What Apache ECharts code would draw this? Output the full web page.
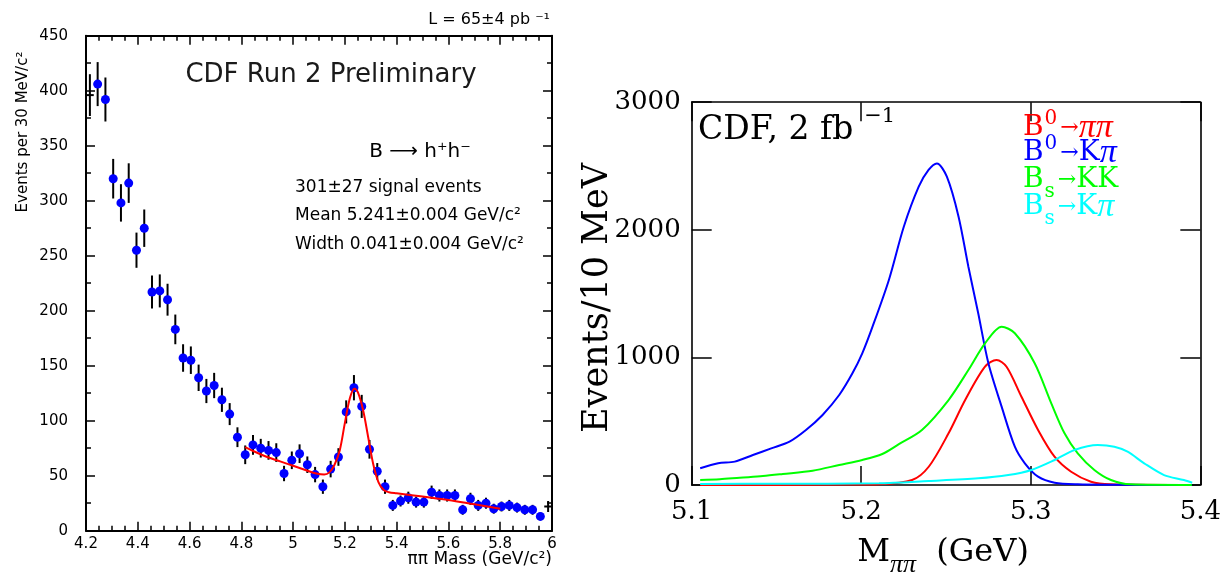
<!DOCTYPE html>
<html>
<head>
<meta charset="utf-8">
<title>B → h⁺h⁻ mass spectra</title>
<script src="https://cdn.jsdelivr.net/npm/echarts@6/dist/echarts.min.js"></script>
<style>
  html, body { margin: 0; padding: 0; background: #fff; }
  #chart { width: 1224px; height: 572px; }
</style>
</head>
<body>
<div id="chart"></div>
<script>
// ---------- Left panel: ππ invariant mass, 30 MeV bins ----------
const massBins = [4.245, 4.275, 4.305, 4.335, 4.365, 4.395, 4.425, 4.455, 4.485, 4.515,
  4.545, 4.575, 4.605, 4.635, 4.665, 4.695, 4.725, 4.755, 4.785, 4.815,
  4.845, 4.875, 4.905, 4.935, 4.965, 4.995, 5.025, 5.055, 5.085, 5.115,
  5.145, 5.175, 5.205, 5.235, 5.265, 5.295, 5.325, 5.355, 5.385, 5.415,
  5.445, 5.475, 5.505, 5.535, 5.565, 5.595, 5.625, 5.655, 5.685, 5.715,
  5.745, 5.775, 5.805, 5.835, 5.865, 5.895, 5.925, 5.955];
const eventCounts = [406, 392, 320, 298, 316, 255, 275, 217, 218, 210,
  183, 157, 155, 139, 127, 132, 119, 106, 85, 69,
  78, 75, 73, 71, 52, 64, 70, 60, 51, 40,
  56, 67, 108, 130, 113, 74, 54, 40, 23, 27,
  30, 26, 26, 35, 32, 32, 32, 19, 29, 23,
  25, 20, 22, 23, 21, 19, 19, 13];
const countErrors = [20, 20, 18, 17, 18, 16, 17, 15, 15, 14.5,
  13.5, 12.5, 12.5, 12, 11, 11.5, 11, 10, 9, 8.5,
  9, 8.5, 8.5, 8.5, 7, 8, 8.5, 7.5, 7, 6.5,
  7.5, 8, 10.5, 11.5, 10.5, 8.5, 7.5, 6.5, 5, 5,
  5.5, 5, 5, 6, 5.5, 5.5, 5.5, 4.5, 5.5, 5,
  5, 4.5, 4.5, 5, 4.5, 4.5, 4.5, 3.5];
// first and last bins, drawn as plain crosses
const edgeBins = [4.215, 5.985];
const edgeCounts = [396, 22];
const edgeErrors = [19, 5];
// signal + background fit
const fitMass = [4.815, 4.85, 4.9, 4.95, 5.0, 5.05, 5.09, 5.12, 5.14, 5.16, 5.18, 5.2,
  5.22, 5.237, 5.25, 5.27, 5.29, 5.31, 5.33, 5.35, 5.37, 5.4, 5.5, 5.6, 5.7, 5.8];
const fitCounts = [76, 72, 67, 63, 59, 55, 52, 51, 53, 60, 73, 98,
  121, 129, 126, 110, 85, 60, 44, 37, 35, 34, 31, 28, 24, 20];
const leftXTicks = { min: 4.2, max: 6, step: 0.2 };
const leftYTicks = { min: 0, max: 450, step: 50 };

// ---------- Right panel: expected shapes, 10 MeV bins ----------
const b0PipiMass = [5.105, 5.15, 5.19, 5.2105, 5.23, 5.2398, 5.2515, 5.2613, 5.273, 5.2798,
  5.2857, 5.2945, 5.3043, 5.314, 5.3238, 5.3355, 5.347, 5.39];
const b0PipiEvents = [0, 0, 3, 6, 39, 143, 405, 666, 927, 980,
  927, 692, 431, 222, 104, 26, 5, 0];
const b0KpiMass = [5.105, 5.1156, 5.1254, 5.1361, 5.1469, 5.1577, 5.1674, 5.1772, 5.187, 5.1948,
  5.2006, 5.2065, 5.2163, 5.2251, 5.2339, 5.2397, 5.2446, 5.2505, 5.2574, 5.2632,
  5.269, 5.275, 5.2828, 5.2906, 5.2965, 5.3043, 5.3141, 5.3277, 5.35, 5.395];
const b0KpiEvents = [131, 170, 183, 235, 287, 340, 431, 549, 705, 875,
  1032, 1235, 1607, 2024, 2338, 2469, 2520, 2416, 2103, 1711,
  1346, 954, 614, 300, 170, 65, 18, 5, 2, 0];
const bsKKMass = [5.105, 5.1166, 5.1283, 5.142, 5.1537, 5.1713, 5.187, 5.2006, 5.2124, 5.2222,
  5.2358, 5.2515, 5.2632, 5.273, 5.2828, 5.2906, 5.3023, 5.3121, 5.3199, 5.3277,
  5.3375, 5.3473, 5.3588, 5.395];
const bsKKEvents = [39, 45, 57, 70, 86, 112, 157, 196, 243, 320,
  431, 666, 901, 1110, 1241, 1189, 954, 640, 405, 248,
  118, 39, 5, 0];
const bsKpiMass = [5.105, 5.15, 5.2105, 5.2398, 5.269, 5.2867, 5.3004, 5.3141, 5.3258, 5.3395,
  5.3493, 5.3571, 5.3669, 5.3786, 5.3903, 5.3952];
const bsKpiEvents = [8, 10, 13, 31, 52, 78, 118, 196, 274, 313,
  300, 261, 170, 78, 39, 18];
const rightXTicks = { min: 5.1, max: 5.4, step: 0.1 };
const rightYTicks = { min: 0, max: 3000, step: 1000 };

// ---------- drawing ----------
const SANS = 'DejaVu Sans';
const SERIF = 'DejaVu Serif';
const MATH = 'Liberation Serif';
const BIN_HALF_WIDTH = 0.015;

const pointsWithErrors = massBins.map((m, i) => [m, eventCounts[i], countErrors[i], 0])
  .concat(edgeBins.map((m, i) => [m, edgeCounts[i], edgeErrors[i], BIN_HALF_WIDTH]));
const pairs = (xs, ys) => xs.map((x, i) => [x, ys[i]]);

function errorBar(params, api) {
  const x = api.value(0), y = api.value(1), e = api.value(2), hw = api.value(3);
  const hi = api.coord([x, y + e]);
  const lo = api.coord([x, y - e]);
  const style = { stroke: '#000', lineWidth: 2 };
  const children = [{ type: 'line', shape: { x1: hi[0], y1: hi[1], x2: lo[0], y2: lo[1] }, style }];
  if (hw > 0) {
    const l = api.coord([x - hw, y]);
    const r = api.coord([x + hw, y]);
    children.push({ type: 'line', shape: { x1: l[0], y1: l[1], x2: r[0], y2: r[1] }, style });
  }
  return { type: 'group', children };
}

function frameAxis(gridIndex, position, range, opts) {
  const ax = {
    gridIndex, position, type: 'value',
    min: range.min, max: range.max, interval: range.step,
    axisLine: { show: true, onZero: false, lineStyle: { color: '#000', width: opts.lineWidth } },
    axisTick: { show: true, inside: true, length: opts.tickLen, lineStyle: { color: '#000', width: 1.5 } },
    splitLine: { show: false },
    axisLabel: { show: false }
  };
  if (opts.minor) {
    ax.minorTick = { show: true, splitNumber: opts.minor, length: opts.minorLen, lineStyle: { color: '#000', width: 1.5 } };
  }
  if (opts.label) {
    ax.axisLabel = Object.assign({
      show: true, color: '#000', showMinLabel: true, showMaxLabel: true
    }, opts.label);
  }
  return ax;
}

const fmt1 = v => String(Math.round(v * 10) / 10);
const fmtFixed = v => v.toFixed(1);
const fmtPlain = v => String(Math.round(v));

const option = {
  backgroundColor: '#fff',
  animation: false,
  grid: [
    { left: 86, top: 35.7, width: 466, height: 495 },
    { left: 691.7, top: 102.2, width: 511.5, height: 382.8 }
  ],
  xAxis: [
    frameAxis(0, 'bottom', leftXTicks, { lineWidth: 2, tickLen: 9, minor: 4, minorLen: 5,
      label: { margin: 6, fontFamily: SANS, fontSize: 15, formatter: fmt1 } }),
    frameAxis(0, 'top', leftXTicks, { lineWidth: 2, tickLen: 9, minor: 4, minorLen: 5 }),
    frameAxis(1, 'bottom', rightXTicks, { lineWidth: 1.6, tickLen: 19,
      label: { margin: 14, fontFamily: SERIF, fontSize: 26, formatter: fmtFixed } }),
    frameAxis(1, 'top', rightXTicks, { lineWidth: 1.6, tickLen: 19 })
  ],
  yAxis: [
    frameAxis(0, 'left', leftYTicks, { lineWidth: 2, tickLen: 9, minor: 2, minorLen: 5,
      label: { margin: 18, fontFamily: SANS, fontSize: 15, formatter: fmtPlain } }),
    frameAxis(0, 'right', leftYTicks, { lineWidth: 2, tickLen: 9, minor: 2, minorLen: 5 }),
    frameAxis(1, 'left', rightYTicks, { lineWidth: 1.6, tickLen: 20,
      label: { margin: 11, fontFamily: SERIF, fontSize: 26, formatter: fmtPlain } }),
    frameAxis(1, 'right', rightYTicks, { lineWidth: 1.6, tickLen: 20 })
  ],
  series: [
    {
      type: 'custom', name: 'errors', xAxisIndex: 0, yAxisIndex: 0,
      renderItem: errorBar, data: pointsWithErrors,
      encode: { x: 0, y: 1 }, z: 3, clip: false
    },
    {
      type: 'scatter', name: 'data', xAxisIndex: 0, yAxisIndex: 0,
      data: pairs(massBins, eventCounts), symbol: 'circle', symbolSize: 9,
      itemStyle: { color: '#0000ff', opacity: 1 }, z: 4
    },
    {
      type: 'line', name: 'fit', xAxisIndex: 0, yAxisIndex: 0,
      data: pairs(fitMass, fitCounts), smooth: 0.35, showSymbol: false, symbol: 'none',
      lineStyle: { color: '#ff0000', width: 2 }, z: 5
    },
    {
      type: 'line', name: 'B0 → ππ', xAxisIndex: 2, yAxisIndex: 2,
      data: pairs(b0PipiMass, b0PipiEvents), smooth: 0.3, symbol: 'none',
      lineStyle: { color: '#ff0000', width: 2 }
    },
    {
      type: 'line', name: 'B0 → Kπ', xAxisIndex: 2, yAxisIndex: 2,
      data: pairs(b0KpiMass, b0KpiEvents), smooth: 0.3, symbol: 'none',
      lineStyle: { color: '#0000ff', width: 2 }
    },
    {
      type: 'line', name: 'Bs → KK', xAxisIndex: 2, yAxisIndex: 2,
      data: pairs(bsKKMass, bsKKEvents), smooth: 0.3, symbol: 'none',
      lineStyle: { color: '#00ff00', width: 2 }
    },
    {
      type: 'line', name: 'Bs → Kπ', xAxisIndex: 2, yAxisIndex: 2,
      data: pairs(bsKpiMass, bsKpiEvents), smooth: 0.3, symbol: 'none',
      lineStyle: { color: '#00ffff', width: 2 }
    }
  ],
  graphic: []
};

function label(x, y, text, font, extra) {
  return Object.assign({
    type: 'text', x, y, z: 100,
    style: Object.assign({ text, fill: '#000', fontFamily: font.family, fontSize: font.size,
      align: 'left', verticalAlign: 'middle' }, font.style || {})
  }, extra || {});
}

// rich-text legend line: B with superscript / subscript, arrow, final-state particles
// (K upright, π as a math symbol)
function decayLine(y, color, script, scriptPos, finalState) {
  const particles = finalState.map(p => (p === 'π' ? '{pi|π}' : '{k|' + p + '}')).join('');
  const text = '{b|B}{' + scriptPos + '|' + script + '}{arr|→}' + particles;
  return {
    type: 'text', x: 1023, y, z: 100,
    style: {
      text, fill: color, align: 'left', verticalAlign: 'middle',
      rich: {
        b: { fontFamily: SERIF, fontSize: 28, lineHeight: 30, fill: color },
        sup: { fontFamily: SERIF, fontSize: 20, height: 12, lineHeight: 12, verticalAlign: 'top', fill: color, padding: [0, 3, 0, 1] },
        sub: { fontFamily: SERIF, fontSize: 20, height: 6, lineHeight: 6, verticalAlign: 'bottom', fill: color, padding: [0, 3, 0, 1] },
        arr: { fontFamily: SERIF, fontSize: 22, lineHeight: 30, fill: color },
        k: { fontFamily: SERIF, fontSize: 28, lineHeight: 30, fill: color },
        pi: { fontFamily: MATH, fontStyle: 'italic', fontSize: 34, lineHeight: 30, fill: color }
      }
    }
  };
}

option.graphic = [
  // left panel text
  label(331, 75, 'CDF Run 2 Preliminary', { family: SANS, size: 26, style: { align: 'center', fill: '#1a1a1a' } }),
  label(550, 20, 'L = 65±4 pb ⁻¹', { family: SANS, size: 16, style: { align: 'right' } }),
  label(420, 152, 'B ⟶ h⁺h⁻', { family: SANS, size: 20, style: { align: 'center' } }),
  label(295, 188, '301±27 signal events', { family: SANS, size: 17 }),
  label(295, 216, 'Mean 5.241±0.004 GeV/c²', { family: SANS, size: 17 }),
  label(295, 245, 'Width 0.041±0.004 GeV/c²', { family: SANS, size: 17 }),
  label(23, 132, 'Events per 30 MeV/c²', { family: SANS, size: 15, style: { align: 'center' } }, { rotation: Math.PI / 2 }),
  label(552, 560, 'ππ Mass (GeV/c²)', { family: SANS, size: 17, style: { align: 'right' } }),
  // right panel text
  {
    type: 'text', x: 698, y: 130, z: 100,
    style: {
      text: '{m|CDF, 2 fb}{s|−1}', fill: '#000', align: 'left', verticalAlign: 'middle',
      rich: {
        m: { fontFamily: SERIF, fontSize: 33, lineHeight: 34 },
        s: { fontFamily: SERIF, fontSize: 21, height: 8, lineHeight: 8, verticalAlign: 'top', padding: [0, 0, 0, 11] }
      }
    }
  },
  decayLine(128, '#ff0000', '0', 'sup', ['π', 'π']),
  decayLine(153, '#0000ff', '0', 'sup', ['K', 'π']),
  decayLine(180, '#00ff00', 's', 'sub', ['K', 'K']),
  decayLine(207, '#00ffff', 's', 'sub', ['K', 'π']),
  label(598, 298, 'Events/10 MeV', { family: SERIF, size: 35, style: { align: 'center' } }, { rotation: Math.PI / 2 }),
  {
    type: 'text', x: 943, y: 553, z: 100,
    style: {
      text: '{m|M}{s|ππ}{m|  (GeV)}', fill: '#000', align: 'center', verticalAlign: 'middle',
      rich: {
        m: { fontFamily: SERIF, fontSize: 32, lineHeight: 36 },
        s: { fontFamily: MATH, fontStyle: 'italic', fontSize: 26, height: 12, lineHeight: 12, verticalAlign: 'bottom' }
      }
    }
  }
];

const chart = echarts.init(document.getElementById('chart'), null, { renderer: 'canvas' });
chart.setOption(option);
</script>
</body>
</html>
